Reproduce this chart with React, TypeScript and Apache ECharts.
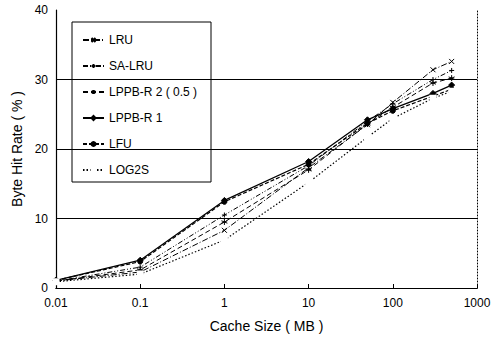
import React, { useEffect, useRef } from "react";
import * as echarts from "echarts";

const cacheSizes = [0.01, 0.1, 1, 10, 50, 100, 300, 500];
const seriesNames = ["LRU", "SA-LRU", "LPPB-R 2 ( 0.5 )", "LPPB-R 1", "LFU", "LOG2S"];
const lru = [1.0, 2.3, 8.3, 17.3, 23.5, 26.7, 31.4, 32.6];
const saLru = [1.0, 3.0, 10.5, 17.6, 24.0, 26.5, 30.0, 31.3];
const lppbR2 = [1.0, 2.6, 9.5, 17.0, 23.6, 26.0, 29.5, 30.2];
const lppbR1 = [1.1, 4.0, 12.6, 18.2, 24.2, 25.8, 28.0, 29.2];
const lfu = [1.1, 3.8, 12.4, 17.8, 23.7, 25.5, 27.6, 28.6];
const log2s = [0.9, 2.0, 6.9, 15.2, 21.7, 24.4, 27.3, 28.3];
const yTicks = [0, 10, 20, 30, 40];

const FONT = "Liberation Sans";

export default function App() {
  const ref = useRef<HTMLDivElement>(null);
  useEffect(() => {
    if (!ref.current) return;
    const chart = echarts.init(ref.current, null, { renderer: "svg" });
    const values = [lru, saLru, lppbR2, lppbR1, lfu, log2s];
    const styles: any[] = [
      { dash: [6, 2, 1, 2], symbol: "path://M0,0L10,10M0,10L10,0", size: 5, width: 1 },
      { dash: [5, 2, 1, 2, 1, 2], symbol: "path://M5,0L5,10M0,5L10,5", size: 5, width: 1 },
      { dash: [5, 3], symbol: "path://M5,0L5,10M0,3L10,7M0,7L10,3", size: 6, width: 1 },
      { dash: "solid", symbol: "diamond", size: 6, width: 1.3 },
      { dash: [4, 2], symbol: "circle", size: 5, width: 1.2 },
      { dash: [1.5, 2], symbol: "emptyRect", size: 5, width: 1.2 },
    ];
    const series = seriesNames.map((name, i) => ({
      name,
      type: "line",
      data: cacheSizes.map((x, j) => [x, values[i][j]]),
      symbol: styles[i].symbol,
      symbolSize: styles[i].size,
      showSymbol: true,
      lineStyle: { color: "#000", width: styles[i].width, type: styles[i].dash },
      itemStyle: { color: styles[i].symbol === "emptyRect" ? "#fff" : "#000", borderColor: "#000", borderWidth: 1 },
    }));
    chart.setOption({
      animation: false,
      backgroundColor: "#fff",
      textStyle: { fontFamily: FONT },
      grid: { left: 56, right: 21, top: 10, bottom: 52 },
      legend: {
        orient: "vertical",
        left: 77,
        top: 29,
        itemWidth: 21,
        itemHeight: 5,
        itemGap: 14,
        data: seriesNames,
        textStyle: { fontFamily: FONT, fontSize: 12, color: "#000" },
      },
      graphic: [
        {
          type: "rect",
          shape: { x: 72, y: 22, width: 139, height: 160 },
          style: { fill: "none", stroke: "#000", lineWidth: 1 },
          z: 100,
        },
      ],
      xAxis: [
        {
          type: "log",
          logBase: 10,
          min: 0.01,
          max: 1000,
          name: "Cache Size ( MB )",
          nameLocation: "middle",
          nameGap: 31,
          nameTextStyle: { fontFamily: FONT, fontSize: 14, color: "#000" },
          axisLine: { lineStyle: { color: "#000", width: 1.2 } },
          axisTick: { inside: true, length: 4, lineStyle: { color: "#000" } },
          axisLabel: {
            fontFamily: FONT,
            fontSize: 12,
            color: "#000",
            margin: 9,
            formatter: (v: number) => String(v),
          },
          splitLine: { show: false },
        },
        {
          type: "log",
          logBase: 10,
          min: 0.01,
          max: 1000,
          position: "top",
          axisLine: { lineStyle: { color: "#000", width: 1, type: [1, 2] } },
          axisTick: { show: false },
          axisLabel: { show: false },
          splitLine: { show: false },
        },
      ],
      yAxis: [
        {
          type: "value",
          min: yTicks[0],
          max: yTicks[yTicks.length - 1],
          interval: 10,
          name: "Byte Hit Rate ( % )",
          nameLocation: "middle",
          nameGap: 27,
          nameTextStyle: { fontFamily: FONT, fontSize: 14, color: "#000" },
          axisLine: { show: true, lineStyle: { color: "#000", width: 1.2 } },
          axisTick: { show: false },
          axisLabel: { fontFamily: FONT, fontSize: 12, color: "#000", margin: 8 },
          splitLine: {
            show: true,
            lineStyle: { color: ["transparent", "#000", "#000", "#000", "transparent"], width: 1.2 },
          },
        },
        {
          type: "value",
          min: 0,
          max: 40,
          interval: 10,
          position: "right",
          axisLine: { show: true, lineStyle: { color: "#000", width: 1, type: [1, 2] } },
          axisTick: { show: false },
          axisLabel: { show: false },
          splitLine: { show: false },
        },
      ],
      series,
    });
    return () => chart.dispose();
  }, []);
  return (
    <div
      ref={ref}
      style={{ position: "absolute", left: 0, top: 0, width: 498, height: 340 }}
    />
  );
}
